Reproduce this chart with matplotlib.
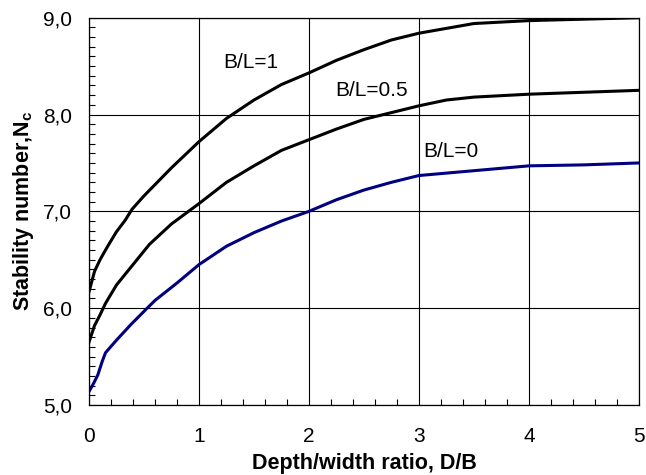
import matplotlib
matplotlib.use("Agg")
import matplotlib.pyplot as plt
from matplotlib.ticker import MultipleLocator, FuncFormatter

plt.rcParams['font.family'] = ['Liberation Sans', 'DejaVu Sans']
plt.rcParams['mathtext.fontset'] = 'custom'
plt.rcParams['mathtext.rm'] = 'Liberation Sans'
plt.rcParams['mathtext.bf'] = 'Liberation Sans:bold'

# Data
x_bl1 = [0, 0.05, 0.1, 0.17, 0.25, 0.33, 0.39, 0.5, 0.75, 1.0, 1.25, 1.5, 1.75,
         2.0, 2.25, 2.5, 2.75, 3.0, 3.5, 4.0, 5.0]
y_bl1 = [6.17, 6.38, 6.5, 6.64, 6.79, 6.91, 7.02, 7.16, 7.45, 7.72, 7.96, 8.15, 8.31,
         8.43, 8.56, 8.67, 8.77, 8.84, 8.94, 8.97, 9.0]

x_bl05 = [0, 0.05, 0.1, 0.15, 0.25, 0.4, 0.55, 0.75, 1.0, 1.25, 1.5, 1.75, 2.0,
          2.25, 2.5, 2.75, 3.0, 3.25, 3.5, 4.0, 5.0]
y_bl05 = [5.65, 5.82, 5.93, 6.05, 6.24, 6.45, 6.66, 6.87, 7.08, 7.30, 7.47, 7.63, 7.74,
          7.85, 7.95, 8.02, 8.09, 8.15, 8.18, 8.21, 8.25]

x_bl0 = [0, 0.04, 0.08, 0.12, 0.15, 0.25, 0.38, 0.52, 0.6, 0.8, 1.0, 1.25, 1.5, 1.75,
         2.0, 2.25, 2.5, 2.75, 3.0, 3.5, 4.0, 4.5, 5.0]
y_bl0 = [5.14, 5.22, 5.31, 5.45, 5.54, 5.67, 5.83, 5.99, 6.08, 6.26, 6.45, 6.64, 6.78, 6.90,
         7.0, 7.12, 7.22, 7.30, 7.37, 7.42, 7.47, 7.48, 7.5]

labels = ["B/L=1", "B/L=0.5", "B/L=0"]
label_pos = [(1.22, 8.54), (2.24, 8.25), (3.04, 7.62)]

fig = plt.figure(figsize=(6.46, 4.75), dpi=100)
ax = fig.add_axes([0.1378, 0.1474, 0.989 - 0.1378, 0.9627 - 0.1474])

ax.plot(x_bl1, y_bl1, color='black', lw=2.2)
ax.plot(x_bl05, y_bl05, color='black', lw=2.2)
ax.plot(x_bl0, y_bl0, color='#000080', lw=2.2)

for t, (tx, ty) in zip(labels, label_pos):
    ax.text(tx, ty, t, fontsize=15, ha='left', va='center')

ax.set_xlim(0, 5)
ax.set_ylim(5, 9)
ax.xaxis.set_major_locator(MultipleLocator(1))
ax.xaxis.set_minor_locator(MultipleLocator(0.2))
ax.yaxis.set_major_locator(MultipleLocator(1))
ax.yaxis.set_minor_locator(MultipleLocator(0.1))
ax.yaxis.set_major_formatter(FuncFormatter(lambda v, p: f"{v:.1f}".replace('.', ',')))
ax.xaxis.set_major_formatter(FuncFormatter(lambda v, p: f"{v:.0f}"))
ax.grid(True, which='major', color='black', lw=0.8)
ax.tick_params(which='both', direction='in', color='black')
ax.tick_params(which='major', length=0, labelsize=15)
ax.tick_params(axis='x', which='major', pad=16)
ax.tick_params(axis='y', which='major', pad=12)
ax.tick_params(which='minor', length=4, width=0.8)
for s in ax.spines.values():
    s.set_linewidth(0.9)
    s.set_color('black')

ax.set_xlabel("Depth/width ratio, D/B", fontsize=15.5, fontweight='bold', labelpad=5)
ax.set_ylabel(r"Stability number,N$_\mathbf{c}$", fontsize=15.5, fontweight='bold', labelpad=5)

fig.savefig("out.png", dpi=100)
